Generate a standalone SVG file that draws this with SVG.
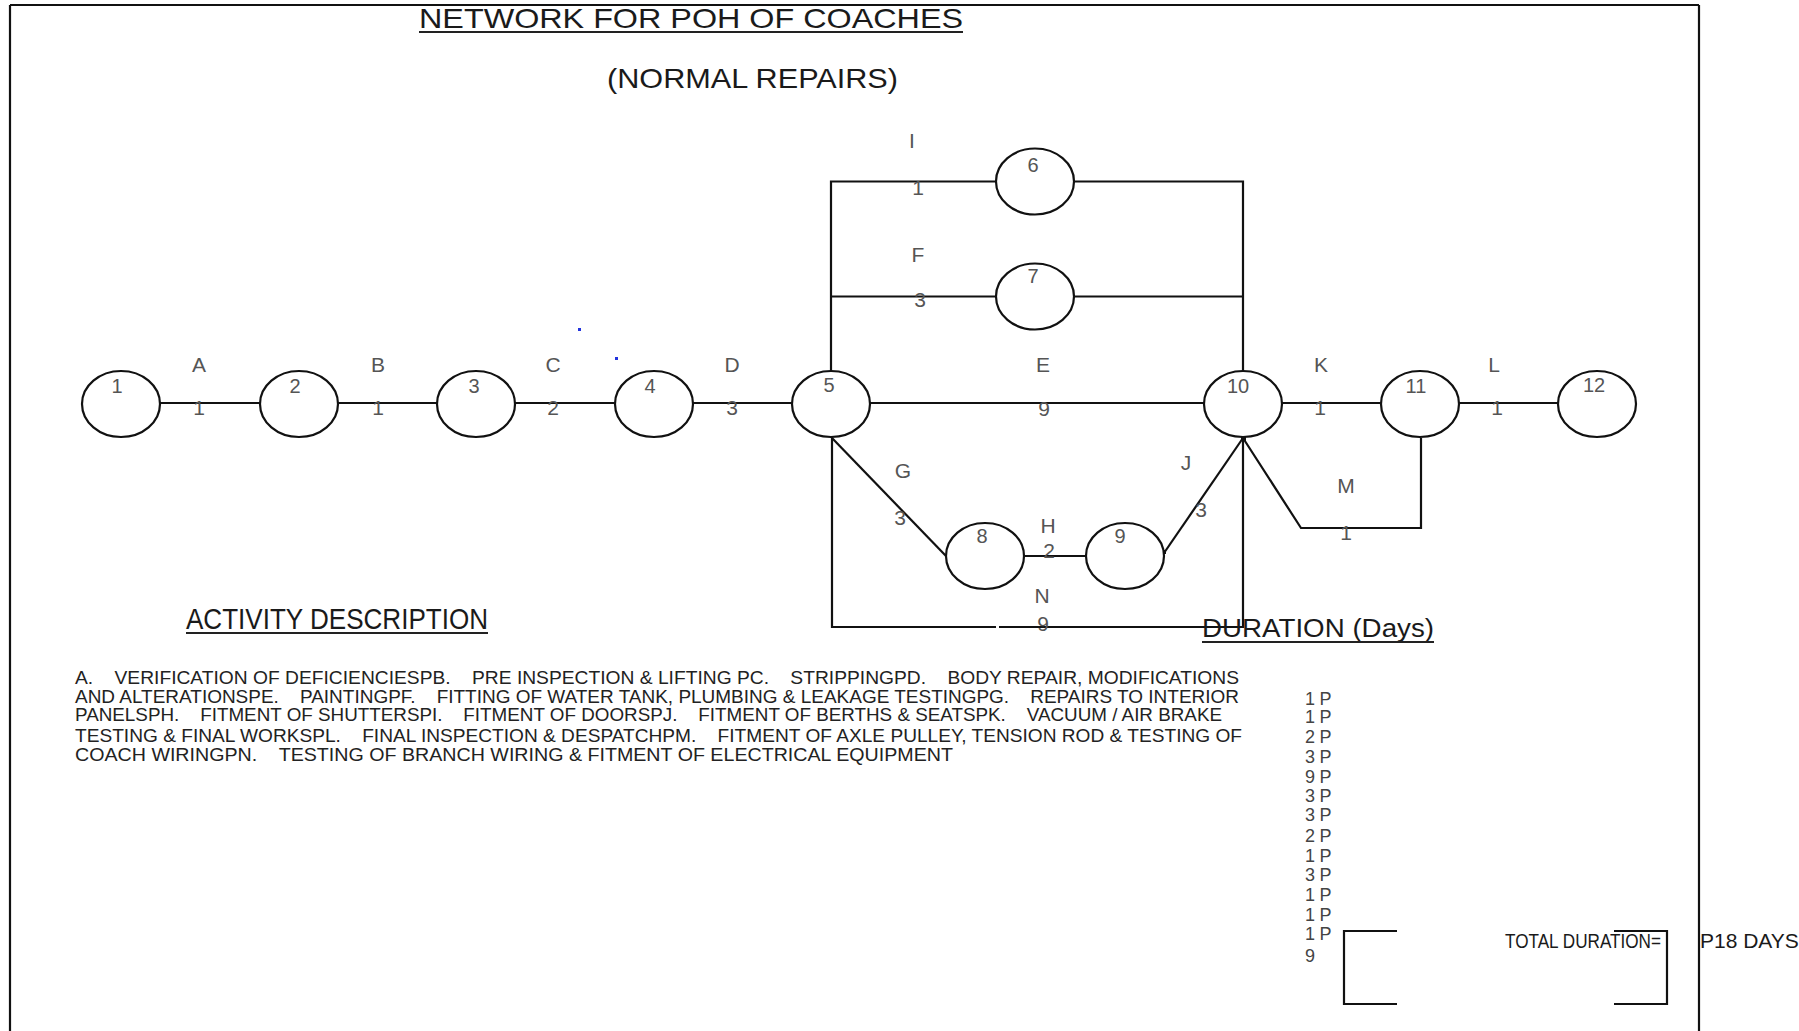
<svg xmlns="http://www.w3.org/2000/svg" width="1799" height="1031" viewBox="0 0 1799 1031">
<style>
  .ln{fill:none;stroke:#111;stroke-width:2.2}
  .nd{fill:#fff;stroke:#111;stroke-width:2.2}
  .nn{font-family:"Liberation Sans",Arial,sans-serif;font-size:20px;fill:#555;text-anchor:middle}
  .el{font-family:"Liberation Sans",Arial,sans-serif;font-size:21px;fill:#555;text-anchor:middle}
  .ti{font-family:"Liberation Sans",Arial,sans-serif;fill:#1a1a1a}
  .ds{font-family:"Liberation Sans",Arial,sans-serif;font-size:18.5px;fill:#222}
  .du{font-family:"Liberation Sans",Arial,sans-serif;font-size:18px;fill:#444;letter-spacing:4.5px}
  .ul{stroke:#222;stroke-width:2.2}
</style>
<rect width="1799" height="1031" fill="#fff"/>
<g id="frame" class="ln" stroke="#333">
  <path d="M10,5 H1699 M10,5 V1031 M1699,5 V1031"/>
</g>
<g id="titles">
  <text class="ti" x="419" y="28" font-size="28" textLength="544" lengthAdjust="spacingAndGlyphs">NETWORK FOR POH OF  COACHES</text>
  <line class="ul" x1="419" y1="32" x2="963" y2="32"/>
  <text class="ti" x="607" y="88" font-size="28" textLength="291" lengthAdjust="spacingAndGlyphs">(NORMAL REPAIRS)</text>
</g>
<g id="connectors">
  <path class="ln" d="M121,403 H1597"/>
  <path class="ln" d="M831,404 V181.5 H1243 V404"/>
  <path class="ln" d="M831,296.5 H1243"/>
  <path class="ln" d="M832,404 V627 H996 M999,627 H1243 V404"/>
  <path class="ln" d="M832,438 L946,556"/>
  <path class="ln" d="M1024,556 H1086"/>
  <path class="ln" d="M1164,553 L1243,438"/>
  <path class="ln" d="M1243,438 L1301,528 H1421 V438"/>
  <rect x="1241" y="436" width="5" height="5" fill="#111"/>
  <rect x="1162" y="550" width="4" height="4" fill="#111"/>
</g>
<g id="edge-labels">
  <text class="el" x="199" y="372">A</text><text class="el" x="199" y="415">1</text>
  <text class="el" x="378" y="372">B</text><text class="el" x="378" y="415">1</text>
  <text class="el" x="553" y="372">C</text><text class="el" x="553" y="415">2</text>
  <text class="el" x="732" y="372">D</text><text class="el" x="732" y="415">3</text>
  <text class="el" x="1043" y="372">E</text><text class="el" x="1044" y="416">9</text>
  <text class="el" x="1321" y="372">K</text><text class="el" x="1320" y="415">1</text>
  <text class="el" x="1494" y="372">L</text><text class="el" x="1497" y="415">1</text>
  <text class="el" x="912" y="148">I</text><text class="el" x="918" y="195">1</text>
  <text class="el" x="918" y="262">F</text><text class="el" x="920" y="307">3</text>
  <text class="el" x="903" y="478">G</text><text class="el" x="900" y="525">3</text>
  <text class="el" x="1048" y="533">H</text><text class="el" x="1049" y="558">2</text>
  <text class="el" x="1186" y="470">J</text><text class="el" x="1201" y="517">3</text>
  <text class="el" x="1346" y="493">M</text><text class="el" x="1346" y="540">1</text>
  <text class="el" x="1042" y="603">N</text><text class="el" x="1043" y="631">9</text>
</g>
<g id="node-1"><ellipse class="nd" cx="121" cy="404" rx="39" ry="33"/><text class="nn" x="117" y="393">1</text></g>
<g id="node-2"><ellipse class="nd" cx="299" cy="404" rx="39" ry="33"/><text class="nn" x="295" y="393">2</text></g>
<g id="node-3"><ellipse class="nd" cx="476" cy="404" rx="39" ry="33"/><text class="nn" x="474" y="393">3</text></g>
<g id="node-4"><ellipse class="nd" cx="654" cy="404" rx="39" ry="33"/><text class="nn" x="650" y="393">4</text></g>
<g id="node-5"><ellipse class="nd" cx="831" cy="404" rx="39" ry="33"/><text class="nn" x="829" y="392">5</text></g>
<g id="node-6"><ellipse class="nd" cx="1035" cy="181.5" rx="39" ry="33"/><text class="nn" x="1033" y="172">6</text></g>
<g id="node-7"><ellipse class="nd" cx="1035" cy="296.5" rx="39" ry="33"/><text class="nn" x="1033" y="283">7</text></g>
<g id="node-8"><ellipse class="nd" cx="985" cy="556" rx="39" ry="33"/><text class="nn" x="982" y="543">8</text></g>
<g id="node-9"><ellipse class="nd" cx="1125" cy="556" rx="39" ry="33"/><text class="nn" x="1120" y="543">9</text></g>
<g id="node-10"><ellipse class="nd" cx="1243" cy="404" rx="39" ry="33"/><text class="nn" x="1238" y="393">10</text></g>
<g id="node-11"><ellipse class="nd" cx="1420" cy="404" rx="39" ry="33"/><text class="nn" x="1416" y="393">11</text></g>
<g id="node-12"><ellipse class="nd" cx="1597" cy="404" rx="39" ry="33"/><text class="nn" x="1594" y="392">12</text></g>
<g id="dots" fill="#2233dd">
  <rect x="578" y="328" width="3" height="3"/>
  <rect x="615" y="357" width="3" height="3"/>
</g>
<g id="activity-description">
  <text class="ti" x="186" y="629" font-size="29" textLength="302" lengthAdjust="spacingAndGlyphs">ACTIVITY DESCRIPTION</text>
  <line class="ul" x1="186" y1="633" x2="488" y2="633"/>
  <text class="ds" xml:space="preserve" x="75" y="684" textLength="1164" lengthAdjust="spacingAndGlyphs">A.    VERIFICATION OF DEFICIENCIESPB.    PRE INSPECTION &amp; LIFTING PC.    STRIPPINGPD.    BODY REPAIR, MODIFICATIONS</text>
  <text class="ds" xml:space="preserve" x="75" y="703" textLength="1164" lengthAdjust="spacingAndGlyphs">AND ALTERATIONSPE.    PAINTINGPF.    FITTING OF WATER TANK, PLUMBING &amp; LEAKAGE TESTINGPG.    REPAIRS TO INTERIOR</text>
  <text class="ds" xml:space="preserve" x="75" y="721" textLength="1147" lengthAdjust="spacingAndGlyphs">PANELSPH.    FITMENT OF SHUTTERSPI.    FITMENT OF DOORSPJ.    FITMENT OF BERTHS &amp; SEATSPK.    VACUUM / AIR BRAKE</text>
  <text class="ds" xml:space="preserve" x="75" y="742" textLength="1167" lengthAdjust="spacingAndGlyphs">TESTING &amp; FINAL WORKSPL.    FINAL INSPECTION &amp; DESPATCHPM.    FITMENT OF AXLE PULLEY, TENSION ROD &amp; TESTING OF</text>
  <text class="ds" xml:space="preserve" x="75" y="761" textLength="878" lengthAdjust="spacingAndGlyphs">COACH WIRINGPN.    TESTING OF BRANCH WIRING &amp; FITMENT OF ELECTRICAL EQUIPMENT</text>
</g>
<g id="duration">
  <text class="ti" x="1202" y="637" font-size="25" textLength="232" lengthAdjust="spacingAndGlyphs">DURATION (Days)</text>
  <line class="ul" x1="1202" y1="642" x2="1434" y2="642"/>
  <text class="du" x="1305" y="705">1P</text>
  <text class="du" x="1305" y="723">1P</text>
  <text class="du" x="1305" y="743">2P</text>
  <text class="du" x="1305" y="763">3P</text>
  <text class="du" x="1305" y="783">9P</text>
  <text class="du" x="1305" y="802">3P</text>
  <text class="du" x="1305" y="821">3P</text>
  <text class="du" x="1305" y="842">2P</text>
  <text class="du" x="1305" y="862">1P</text>
  <text class="du" x="1305" y="881">3P</text>
  <text class="du" x="1305" y="901">1P</text>
  <text class="du" x="1305" y="921">1P</text>
  <text class="du" x="1305" y="940">1P</text>
  <text class="du" x="1305" y="962">9</text>
</g>
<g id="total">
  <path class="ln" d="M1397,931 H1344 V1004 H1397 M1614,931 H1667 V1004 H1614"/>
  <text class="ti" x="1505" y="948" font-size="21" fill="#333" textLength="156" lengthAdjust="spacingAndGlyphs">TOTAL  DURATION=</text>
  <text class="ti" x="1700" y="948" font-size="21" fill="#333">P18 DAYS</text>
</g>
</svg>
